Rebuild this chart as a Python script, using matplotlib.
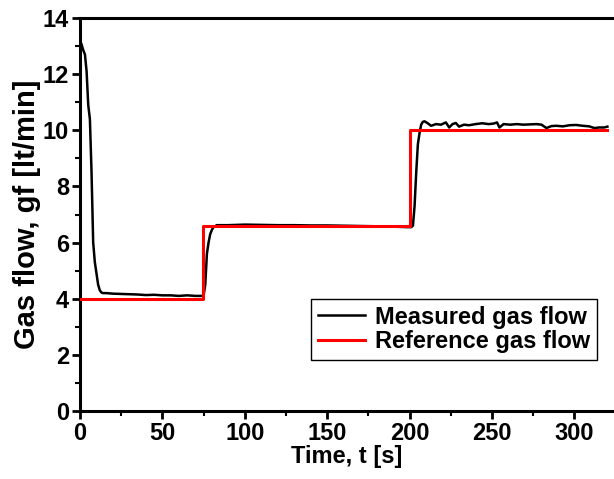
import numpy as np
import matplotlib
matplotlib.use("Agg")
from matplotlib import pyplot as plt
from matplotlib.ticker import MultipleLocator

# measured gas flow (t [s], gf [lt/min])
medido = [
    (0, 13.2), (1, 13.05), (2, 12.85), (3, 12.7), (4, 12.1), (5, 10.9),
    (6, 10.4), (7, 8.5), (8, 6.0), (9, 5.3), (10, 4.9), (11, 4.5),
    (12, 4.3), (13, 4.22), (14, 4.2), (16, 4.2), (20, 4.18), (25, 4.17),
    (30, 4.16), (35, 4.15), (40, 4.13), (45, 4.14), (50, 4.12), (55, 4.12),
    (60, 4.1), (65, 4.12), (70, 4.1), (74, 4.1), (75, 4.12), (76, 4.5),
    (77, 5.6), (78, 6.0), (79, 6.3), (80, 6.45), (81, 6.55), (83, 6.62),
    (90, 6.62), (100, 6.64), (110, 6.63), (120, 6.62), (130, 6.62),
    (140, 6.61), (150, 6.61), (160, 6.60), (170, 6.59), (180, 6.58),
    (190, 6.57), (198, 6.55), (201, 6.55), (202, 6.6), (203, 7.3),
    (204, 8.5), (205, 9.5), (206, 9.9), (207, 10.2), (208, 10.3),
    (209, 10.32), (211, 10.25), (213, 10.16), (216, 10.22), (219, 10.2),
    (222, 10.28), (224, 10.1), (226, 10.22), (228, 10.26), (230, 10.13),
    (233, 10.2), (236, 10.18), (240, 10.22), (244, 10.25), (248, 10.22),
    (251, 10.24), (253, 10.28), (254.5, 10.1), (257, 10.22), (261, 10.2),
    (265, 10.22), (269, 10.2), (273, 10.21), (277, 10.22), (280, 10.2),
    (283, 10.08), (286, 10.15), (289, 10.16), (293, 10.14), (297, 10.18),
    (301, 10.19), (305, 10.16), (309, 10.14), (312, 10.08), (315, 10.1),
    (318, 10.1), (320, 10.13),
]
t_med = np.array([p[0] for p in medido])
gf_med = np.array([p[1] for p in medido])

# reference gas flow (steps)
t_ref = [0, 74.5, 74.5, 200, 200, 320]
gf_ref = [4, 4, 6.6, 6.6, 10, 10]

plt.rcParams['font.family'] = ['Liberation Sans', 'DejaVu Sans']
plt.rcParams['font.weight'] = 'bold'

fig = plt.figure(figsize=(6.14, 4.79), dpi=100)
ax = fig.add_axes([80/614, 1-411/479, 1-80/614, (411-18)/479])

ax.plot(t_med, gf_med, color='black', lw=1.8, label='Measured gas flow', zorder=2)
ax.plot(t_ref, gf_ref, color='#ff0000', lw=2.2, label='Reference gas flow', zorder=3)

ax.set_xlim(0, 324)
ax.set_ylim(0, 14)
ax.xaxis.set_major_locator(MultipleLocator(50))
ax.xaxis.set_minor_locator(MultipleLocator(25))
ax.yaxis.set_major_locator(MultipleLocator(2))
ax.yaxis.set_minor_locator(MultipleLocator(1))
ax.tick_params(which='major', direction='out', length=6, width=2, labelsize=17, pad=2)
ax.tick_params(which='minor', direction='out', length=3.5, width=1.5)
ax.spines['right'].set_visible(False)
for s in ['left', 'bottom', 'top']:
    ax.spines[s].set_linewidth(2.2)

ax.set_xlabel('Time, t [s]', fontsize=17, fontweight='bold', labelpad=0)
ax.set_ylabel('Gas flow, gf [lt/min]', fontsize=21, fontweight='bold', labelpad=1)

leg = ax.legend(loc='lower right', bbox_to_anchor=(0.968, 0.13), fontsize=17,
                frameon=True, fancybox=False, edgecolor='black', framealpha=1,
                handlelength=2.0, borderpad=0.3, labelspacing=0.05, handletextpad=0.4,
                borderaxespad=0)
leg.get_frame().set_linewidth(1.0)
for txt in leg.get_texts():
    txt.set_fontweight('bold')

fig.savefig('out.png', dpi=100)
